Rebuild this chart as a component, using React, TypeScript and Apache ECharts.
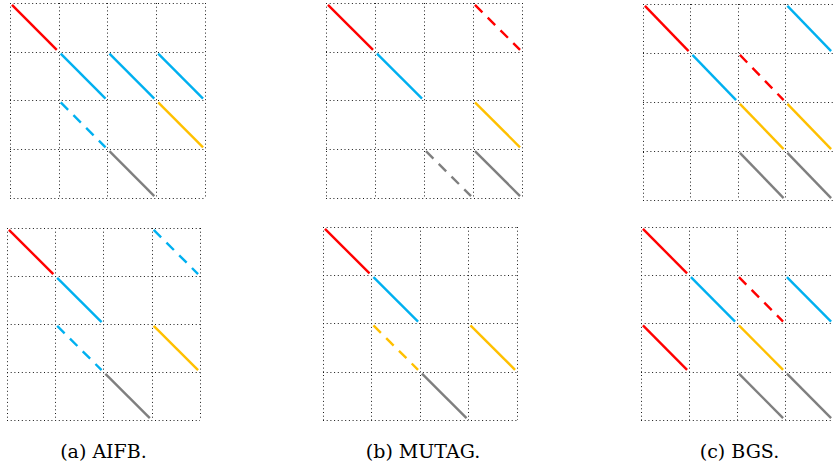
import React, { useEffect, useRef } from "react";
import * as echarts from "echarts";

// Each cell: [row (0 = top), column (0 = left), colour key, dashed (1) or solid (0)]
const aifbTopCells: [number, number, string, number][] = [
  [0, 0, "red", 0],
  [1, 1, "blue", 0],
  [1, 2, "blue", 0],
  [1, 3, "blue", 0],
  [2, 1, "blue", 1],
  [2, 3, "yellow", 0],
  [3, 2, "gray", 0],
];
const aifbBottomCells: [number, number, string, number][] = [
  [0, 0, "red", 0],
  [0, 3, "blue", 1],
  [1, 1, "blue", 0],
  [2, 1, "blue", 1],
  [2, 3, "yellow", 0],
  [3, 2, "gray", 0],
];
const mutagTopCells: [number, number, string, number][] = [
  [0, 0, "red", 0],
  [0, 3, "red", 1],
  [1, 1, "blue", 0],
  [2, 3, "yellow", 0],
  [3, 2, "gray", 1],
  [3, 3, "gray", 0],
];
const mutagBottomCells: [number, number, string, number][] = [
  [0, 0, "red", 0],
  [1, 1, "blue", 0],
  [2, 1, "yellow", 1],
  [2, 3, "yellow", 0],
  [3, 2, "gray", 0],
];
const bgsTopCells: [number, number, string, number][] = [
  [0, 0, "red", 0],
  [0, 3, "blue", 0],
  [1, 1, "blue", 0],
  [1, 2, "red", 1],
  [2, 2, "yellow", 0],
  [2, 3, "yellow", 0],
  [3, 2, "gray", 0],
  [3, 3, "gray", 0],
];
const bgsBottomCells: [number, number, string, number][] = [
  [0, 0, "red", 0],
  [1, 1, "blue", 0],
  [1, 2, "red", 1],
  [1, 3, "blue", 0],
  [2, 0, "red", 0],
  [2, 2, "yellow", 0],
  [3, 2, "gray", 0],
  [3, 3, "gray", 0],
];

const panelCells = [aifbTopCells, aifbBottomCells, mutagTopCells, mutagBottomCells, bgsTopCells, bgsBottomCells];

const captions = ["(a) AIFB.", "(b) MUTAG.", "(c) BGS."];
const gridSize = 4;

// layout (pixels)
const panelBoxes = [
  { left: 10, top: 3, width: 195, height: 195 },
  { left: 7, top: 228, width: 193, height: 192 },
  { left: 326, top: 3, width: 196, height: 195 },
  { left: 323, top: 227, width: 194, height: 193 },
  { left: 643, top: 4, width: 196, height: 196 },
  { left: 641, top: 227, width: 193, height: 193 },
];
const captionX = [103.5, 423, 739.5];
const captionY = 451;

const colors: Record<string, string> = {
  red: "#ff0000",
  blue: "#00b0f0",
  yellow: "#ffc000",
  gray: "#7f7f7f",
};

export default function App() {
  const ref = useRef<HTMLDivElement>(null);
  useEffect(() => {
    document.body.style.margin = "0";
    if (!ref.current) return;
    const chart = echarts.init(ref.current, undefined, { renderer: "svg" });
    const inset = 0.04;
    const gridLine = {
      show: true,
      lineStyle: { color: "#1a1a1a", width: 1, type: [1, 2.7] as any },
    };
    const axisCommon = {
      type: "value" as const,
      min: 0,
      max: gridSize,
      interval: 1,
      axisLine: { show: false },
      axisTick: { show: false },
      axisLabel: { show: false },
      splitLine: gridLine,
    };
    const series: any[] = [];
    panelCells.forEach((cells, p) => {
      cells.forEach(([r, c, col, dashed]) => {
        series.push({
          type: "line",
          xAxisIndex: p,
          yAxisIndex: p,
          silent: true,
          symbol: "none",
          data: [
            [c + inset, gridSize - r - inset],
            [c + 1 - inset, gridSize - r - 1 + inset],
          ],
          lineStyle: {
            color: colors[col],
            width: 2.4,
            type: dashed ? [10.5, 7.5] : "solid",
            cap: "butt",
          },
        });
      });
    });
    chart.setOption({
      animation: false,
      backgroundColor: "#ffffff",
      grid: panelBoxes.map((b) => ({ ...b, containLabel: false })),
      xAxis: panelBoxes.map((_, i) => ({ ...axisCommon, gridIndex: i })),
      yAxis: panelBoxes.map((_, i) => ({ ...axisCommon, gridIndex: i })),
      series,
      graphic: captions.map((t, i) => ({
        type: "text",
        x: captionX[i],
        y: captionY,
        style: {
          text: t,
          fontFamily: "DejaVu Serif",
          fontSize: 19,
          fill: "#000",
          align: "center",
          verticalAlign: "middle",
        },
      })),
    });
    return () => chart.dispose();
  }, []);
  return <div ref={ref} style={{ width: 833, height: 468 }} />;
}
